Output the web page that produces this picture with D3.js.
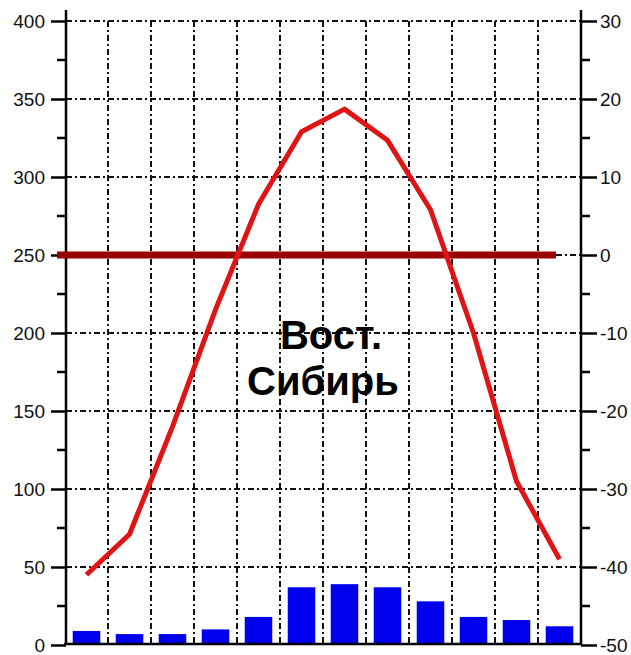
<!DOCTYPE html>
<html lang="ru">
<head>
    <meta charset="UTF-8"/>
    <title>Климатограмма</title>
    <script src="https://cdnjs.cloudflare.com/ajax/libs/d3/7.8.5/d3.min.js"></script>
    <style>
        body { margin: 0; background: #fff; }
        .tick-label { font-family: "Liberation Sans", Arial, sans-serif; font-size: 19px; fill: #111; }
        .title { font-family: "Liberation Sans", Arial, sans-serif; font-weight: bold; font-size: 40px; fill: #000; }
    </style>
</head>
<body>
<div id="chart"></div>

<script>
    // Data
    const months = ["Янв", "Фев", "Мар", "Апр", "Май", "Июн", "Июл", "Авг", "Сен", "Окт", "Ноя", "Дек"];
    const precipitation = [9, 7, 7, 10, 18, 37, 39, 37, 28, 18, 16, 12];
    const temperature = [-41, -35.8, -22, -7, 6.5, 15.8, 18.7, 14.7, 5.8, -10, -29, -39];
    const precipTicks = [0, 50, 100, 150, 200, 250, 300, 350, 400];
    const tempTicks = [-50, -40, -30, -20, -10, 0, 10, 20, 30];
    const titleLines = ["Вост.", "Сибирь"];

    const width = 631;
    const height = 655;
    const m = {left: 66, right: 581, top: 21, bottom: 645};

    const svg = d3.select("#chart")
        .append("svg")
        .attr("width", width)
        .attr("height", height);

    // Scales
    const x = d3.scaleBand()
        .domain(months)
        .range([65, m.right]);

    const yP = d3.scaleLinear()
        .domain([0, 400])
        .range([m.bottom, m.top]);

    const yT = d3.scaleLinear()
        .domain([-50, 30])
        .range([m.bottom, m.top]);

    // Grid lines (dash-dot)
    const grid = svg.append("g").attr("class", "grid");

    grid.selectAll(".hgrid")
        .data(precipTicks.filter(d => d > 0))
        .enter()
        .append("line")
        .attr("x1", m.left)
        .attr("x2", m.right)
        .attr("y1", d => yP(d))
        .attr("y2", d => yP(d))
        .attr("stroke", "#111")
        .attr("stroke-width", 2)
        .attr("stroke-dasharray", "6,3,2,3");

    grid.selectAll(".vgrid")
        .data(months.slice(1))
        .enter()
        .append("line")
        .attr("x1", d => x(d))
        .attr("x2", d => x(d))
        .attr("y1", m.top)
        .attr("y2", m.bottom)
        .attr("stroke", "#111")
        .attr("stroke-width", 2)
        .attr("stroke-dasharray", "6,3,2,3");

    // Precipitation bars
    const barW = x.bandwidth() * 0.64;
    svg.selectAll(".bar")
        .data(months)
        .enter()
        .append("rect")
        .attr("x", d => x(d) + (x.bandwidth() - barW) / 2)
        .attr("y", (d, i) => yP(precipitation[i]))
        .attr("width", barW)
        .attr("height", (d, i) => m.bottom - yP(precipitation[i]))
        .attr("fill", "#0000ee");

    // Baseline
    svg.append("line")
        .attr("x1", 64)
        .attr("x2", m.right)
        .attr("y1", m.bottom - 1)
        .attr("y2", m.bottom - 1)
        .attr("stroke", "#000")
        .attr("stroke-width", 2.5);

    // Left axis
    const leftAxis = svg.append("g")
        .attr("transform", `translate(${m.left},0)`)
        .call(d3.axisLeft(yP).tickValues(precipTicks).tickSize(15).tickPadding(6));
    leftAxis.select(".domain").remove();
    leftAxis.selectAll(".tick line").attr("stroke", "#000").attr("stroke-width", 2.5);
    leftAxis.selectAll(".tick text").attr("class", "tick-label");
    leftAxis.attr("font-size", null).attr("font-family", null);

    svg.append("g")
        .selectAll("line")
        .data(d3.range(25, 400, 50))
        .enter()
        .append("line")
        .attr("x1", m.left - 9)
        .attr("x2", m.left)
        .attr("y1", d => yP(d))
        .attr("y2", d => yP(d))
        .attr("stroke", "#000")
        .attr("stroke-width", 2.5);

    svg.append("line")
        .attr("x1", m.left)
        .attr("x2", m.left)
        .attr("y1", 10)
        .attr("y2", m.bottom)
        .attr("stroke", "#000")
        .attr("stroke-width", 2.5);

    // Right axis (plain hyphen minus like the original)
    const rightAxis = svg.append("g")
        .attr("transform", `translate(${m.right},0)`)
        .call(d3.axisRight(yT).tickValues(tempTicks).tickSize(16).tickPadding(3)
            .tickFormat(d => String(d)));
    rightAxis.select(".domain").remove();
    rightAxis.selectAll(".tick line").attr("stroke", "#000").attr("stroke-width", 2.5);
    rightAxis.selectAll(".tick text").attr("class", "tick-label");
    rightAxis.attr("font-size", null).attr("font-family", null);

    svg.append("g")
        .selectAll("line")
        .data(d3.range(-45, 30, 10))
        .enter()
        .append("line")
        .attr("x1", m.right)
        .attr("x2", m.right + 9)
        .attr("y1", d => yT(d))
        .attr("y2", d => yT(d))
        .attr("stroke", "#000")
        .attr("stroke-width", 2.5);

    svg.append("line")
        .attr("x1", m.right)
        .attr("x2", m.right)
        .attr("y1", 10)
        .attr("y2", m.bottom)
        .attr("stroke", "#000")
        .attr("stroke-width", 2.5);

    // Zero temperature line
    svg.append("line")
        .attr("x1", 57)
        .attr("x2", 556)
        .attr("y1", yT(0))
        .attr("y2", yT(0))
        .attr("stroke", "#990000")
        .attr("stroke-width", 7);

    // Temperature line
    const line = d3.line()
        .x((d, i) => x(months[i]) + x.bandwidth() / 2)
        .y(d => yT(d));

    svg.append("path")
        .datum(temperature)
        .attr("d", line)
        .attr("fill", "none")
        .attr("stroke", "#e01414")
        .attr("stroke-width", 5)
        .attr("stroke-linejoin", "round");

    // Title
    svg.append("text")
        .attr("class", "title")
        .attr("x", 331)
        .attr("y", 349)
        .attr("text-anchor", "middle")
        .text(titleLines[0]);

    svg.append("text")
        .attr("class", "title")
        .attr("x", 323)
        .attr("y", 395)
        .attr("text-anchor", "middle")
        .text(titleLines[1]);
</script>
</body>
</html>
